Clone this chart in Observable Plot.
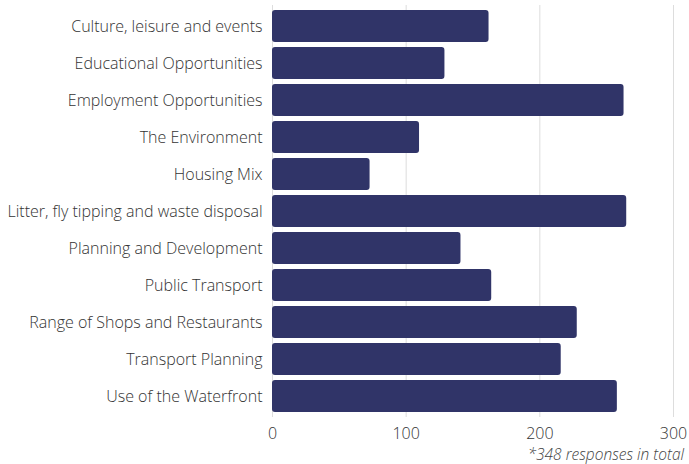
<!DOCTYPE html>
<html>
<head>
<meta charset="utf-8">
<script src="https://cdn.jsdelivr.net/npm/d3@7"></script>
<script src="https://cdn.jsdelivr.net/npm/@observablehq/plot@0.6"></script>
<style>
  body { margin: 0; background: #fff; font-family: "Open Sans", sans-serif; overflow: hidden; }
  #chart { width: 689px; }
  .caption { width: 684px; text-align: right; font-style: italic; font-size: 15.5px; color: #444; font-weight: 300; line-height: 20px; }
</style>
</head>
<body>
<div id="chart"></div>
<script>
const categories = [
  "Culture, leisure and events",
  "Educational Opportunities",
  "Employment Opportunities",
  "The Environment",
  "Housing Mix",
  "Litter, fly tipping and waste disposal",
  "Planning and Development",
  "Public Transport",
  "Range of Shops and Restaurants",
  "Transport Planning",
  "Use of the Waterfront"
];
const values = [162, 129, 263, 110, 73, 265, 141, 164, 228, 216, 258];
const xTicks = [0, 100, 200, 300];
const captionText = "*348 responses in total";

const data = categories.map((c, i) => ({category: c, value: values[i]}));

const plot = Plot.plot({
  width: 689,
  height: 444,
  marginLeft: 272,
  marginRight: 16,
  marginTop: 5,
  marginBottom: 27,
  style: {fontFamily: "Open Sans, sans-serif", fontSize: "16px", color: "#333", fontWeight: 300},
  x: {domain: [0, 300], ticks: xTicks, label: null, tickSize: 0},
  y: {domain: categories, label: null, tickSize: 0, padding: 0.135},
  marks: [
    Plot.gridX(xTicks, {stroke: "#ddd", strokeOpacity: 1}),
    Plot.barX(data, {x: "value", y: "category", fill: "#303468", rx: 3}),
    Plot.axisX({ticks: xTicks, tickSize: 0, tickPadding: 10, label: null, fontSize: 16}),
    Plot.axisY({tickSize: 0, tickPadding: 10, label: null, fontSize: 16})
  ]
});
document.getElementById("chart").appendChild(plot);
const cap = document.createElement("div");
cap.className = "caption";
cap.textContent = captionText;
document.getElementById("chart").appendChild(cap);
</script>
</body>
</html>
